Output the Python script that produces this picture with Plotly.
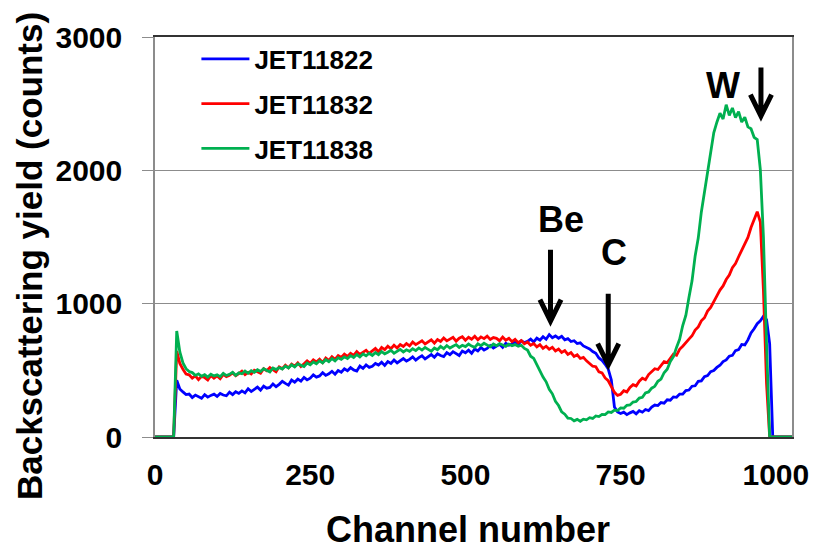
import plotly.graph_objects as go

# Channel grid (every 5th channel)
channels = list(range(0, 1035, 5))

# Backscattering yield (counts)
jet11822 = [
    0, 0, 0, 0, 0, 0, 0, 425, 360, 338,
    318, 322, 296, 314, 305, 290, 318, 299, 312, 321,
    304, 326, 315, 309, 336, 318, 340, 327, 346, 331,
    362, 341, 358, 374, 352, 381, 366, 372, 398, 377,
    395, 418, 402, 389, 427, 411, 434, 419, 447, 428,
    441, 466, 449, 458, 482, 462, 474, 493, 471, 498,
    486, 511, 497, 520, 503, 495, 532, 514, 540, 522,
    531, 552, 540, 561, 537, 566, 551, 577, 556, 569,
    588, 570, 582, 601, 576, 595, 609, 586, 603, 618,
    598, 624, 611, 603, 633, 617, 640, 622, 611, 645,
    632, 651, 628, 660, 645, 671, 652, 664, 686, 667,
    679, 695, 672, 703, 688, 698, 715, 694, 722, 708,
    717, 734, 713, 741, 726, 752, 733, 768, 745, 758,
    741, 755, 729, 738, 716, 722, 701, 706, 683, 673,
    660, 641, 628, 593, 574, 545, 510, 428, 225, 188,
    176, 186, 168, 181, 192, 174, 197, 186, 206, 198,
    224, 240, 236, 258, 254, 279, 276, 301, 298, 322,
    322, 348, 352, 381, 384, 418, 421, 452, 461, 490,
    498, 522, 538, 566, 578, 606, 612, 648, 655, 694,
    690, 728, 780, 812, 850, 872, 905, 880, 700, 0,
    0, 0, 0, 0, 0, 0, 0,
]

jet11832 = [
    0, 0, 0, 0, 0, 0, 0, 645, 552, 508,
    472, 466, 441, 458, 430, 455, 446, 428, 462, 441,
    458, 437, 470, 452, 463, 481, 459, 476, 494, 468,
    485, 472, 501, 489, 478, 512, 497, 521, 503, 489,
    526, 512, 538, 519, 547, 531, 556, 528, 549, 571,
    552, 578, 563, 584, 559, 592, 575, 602, 583, 611,
    596, 621, 604, 628, 612, 641, 619, 633, 651, 627,
    648, 664, 639, 672, 655, 681, 662, 689, 668, 694,
    679, 701, 684, 712, 693, 706, 721, 698, 715, 729,
    704, 731, 716, 742, 721, 735, 748, 719, 741, 752,
    726, 748, 733, 755, 729, 751, 738, 757, 732, 746,
    740, 722, 749, 726, 741, 715, 732, 708, 724, 699,
    712, 688, 701, 676, 693, 665, 681, 658, 672, 646,
    660, 634, 648, 619, 633, 604, 616, 589, 597, 571,
    552, 531, 527, 488, 481, 443, 422, 376, 335, 312,
    321, 347, 338, 371, 392, 383, 418, 441, 430, 468,
    489, 512, 506, 541, 566, 559, 592, 621, 613, 658,
    681, 712, 734, 759, 802, 826, 871, 894, 944, 972,
    1021, 1058, 1102, 1133, 1181, 1214, 1270, 1301, 1352, 1398,
    1446, 1497, 1571, 1628, 1690, 1612, 1100, 400, 0, 0,
    0, 0, 0, 0, 0, 0, 0,
]

jet11838 = [
    0, 0, 0, 0, 0, 0, 0, 795, 638, 556,
    512, 491, 483, 462, 474, 455, 468, 449, 471, 458,
    466, 452, 478, 461, 470, 486, 463, 481, 474, 495,
    478, 497, 485, 504, 491, 512, 499, 488, 518, 506,
    521, 509, 532, 517, 541, 526, 548, 536, 529, 555,
    541, 563, 549, 572, 556, 580, 565, 588, 571, 594,
    582, 601, 588, 610, 596, 618, 601, 622, 609, 628,
    612, 633, 618, 641, 624, 636, 650, 628, 645, 657,
    638, 654, 643, 662, 648, 668, 652, 671, 657, 643,
    668, 654, 679, 662, 686, 667, 681, 693, 672, 688,
    678, 697, 682, 672, 699, 685, 703, 689, 676, 698,
    684, 701, 688, 679, 697, 685, 693, 680, 688, 664,
    652, 606, 589, 541, 503, 449, 414, 358, 324, 268,
    236, 188, 171, 142, 139, 121, 132, 118, 134, 129,
    145, 139, 158, 153, 170, 168, 188, 184, 201, 199,
    218, 216, 238, 240, 262, 266, 292, 298, 330, 338,
    366, 380, 418, 434, 482, 508, 566, 603, 672, 733,
    836, 912, 1046, 1171, 1358, 1492, 1688, 1832, 2006, 2141,
    2282, 2361, 2428, 2385, 2492, 2412, 2468, 2395, 2441, 2362,
    2398, 2326, 2312, 2248, 2231, 2005, 1500, 700, 0, 0,
    0, 0, 0, 0, 0, 0, 0,
]

series_names = ["JET11822", "JET11832", "JET11838"]
series_values = [jet11822, jet11832, jet11838]
series_colors = ["#0000FF", "#FF0000", "#00B050"]

x_ticks = [0, 250, 500, 750, 1000]
y_ticks = [0, 1000, 2000, 3000]

# Element labels with arrows: (label, label_x, label_y, arrow_x, arrow_top, arrow_tip)
markers = [
    ("Be", 654, 1631, 637, 1405, 870),
    ("C", 740, 1383, 730, 1075, 541),
    ("W", 915, 2634, 976, 2772, 2407),
]

FONT = "Liberation Sans, Arial, sans-serif"

fig = go.Figure()
for name, vals, color in zip(series_names, series_values, series_colors):
    fig.add_trace(go.Scatter(
        x=channels, y=vals, mode="lines", name=name, legendgroup=name,
        line=dict(color=color, width=2.8),
    ))

shapes = []
annotations = []
for label, lx, ly, ax, atop, atip in markers:
    hw, hh = 17, 160
    path = (f"M {ax},{atop} L {ax},{atip} "
            f"M {ax - hw},{atip + hh} L {ax},{atip} L {ax + hw},{atip + hh}")
    shapes.append(dict(type="path", xref="x", yref="y", path=path,
                       line=dict(color="black", width=5)))
    annotations.append(dict(text=label, x=lx, y=ly, xref="x", yref="y",
                            showarrow=False, xanchor="center", yanchor="middle",
                            font=dict(size=36, family=FONT, weight="bold", color="black")))

annotations.append(dict(text="Channel number", x=0.491, y=-0.232, xref="paper", yref="paper",
                        showarrow=False, xanchor="center", yanchor="middle",
                        font=dict(size=36, family=FONT, weight="bold", color="black")))
annotations.append(dict(text="Backscattering yield (counts)", x=-0.198, y=0.452,
                        xref="paper", yref="paper", textangle=-90,
                        showarrow=False, xanchor="center", yanchor="middle",
                        font=dict(size=35, family=FONT, weight="bold", color="black")))

# The page body has an 8px default margin, so the figure is sized to fit the window.
fig.update_layout(
    width=813, height=545,
    margin=dict(l=147, r=24, t=19, b=116),
    plot_bgcolor="white", paper_bgcolor="white",
    font=dict(family=FONT, color="black"),
    showlegend=True,
    legend=dict(x=0.065, y=1.004, xanchor="left", yanchor="top",
                font=dict(size=26, family=FONT, weight="bold"),
                itemwidth=48, tracegroupgap=8, bgcolor="rgba(0,0,0,0)"),
    xaxis=dict(range=[0, 1026], tickvals=x_ticks, showgrid=False, zeroline=False,
               showline=True, linecolor="#333333", linewidth=1.5, mirror=True,
               ticks="", ticklabelstandoff=10,
               tickfont=dict(size=30, family=FONT, weight="bold")),
    yaxis=dict(range=[0, 3000], tickvals=y_ticks, showgrid=True, gridcolor="#8c8c8c",
               gridwidth=1, zeroline=False, showline=True, linecolor="#8c8c8c",
               linewidth=1.5, mirror=True, ticks="outside", ticklen=11,
               tickcolor="#8c8c8c", ticklabelstandoff=14,
               tickfont=dict(size=30, family=FONT, weight="bold")),
    shapes=shapes,
    annotations=annotations,
)

fig.write_html("out.html")
